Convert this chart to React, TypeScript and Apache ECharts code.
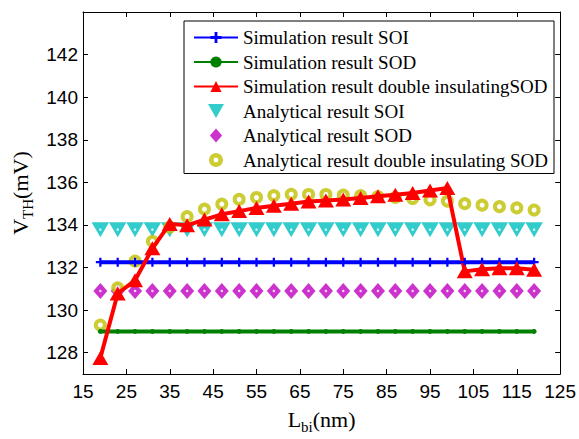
import React, { useEffect, useRef } from "react";
import * as echarts from "echarts";

const xValues = [19, 23, 27, 31, 35, 39, 43, 47, 51, 55, 59, 63, 67, 71, 75, 79, 83, 87, 91, 95, 99, 103, 107, 111, 115, 119];

const simSOI = [132.25, 132.25, 132.25, 132.25, 132.25, 132.25, 132.25, 132.25, 132.25, 132.25, 132.25, 132.25, 132.25, 132.25, 132.25, 132.25, 132.25, 132.25, 132.25, 132.25, 132.25, 132.25, 132.25, 132.25, 132.25, 132.25];
const simSOD = [129.0, 129.0, 129.0, 129.0, 129.0, 129.0, 129.0, 129.0, 129.0, 129.0, 129.0, 129.0, 129.0, 129.0, 129.0, 129.0, 129.0, 129.0, 129.0, 129.0, 129.0, 129.0, 129.0, 129.0, 129.0, 129.0];
const simDoubleSOD = [127.75, 130.78, 131.4, 132.9, 134.05, 133.98, 134.25, 134.5, 134.65, 134.8, 134.9, 135.0, 135.1, 135.15, 135.2, 135.27, 135.35, 135.42, 135.5, 135.62, 135.73, 131.82, 131.92, 131.97, 131.97, 131.9];
const anaSOI = [133.78, 133.78, 133.78, 133.78, 133.78, 133.78, 133.78, 133.78, 133.78, 133.78, 133.78, 133.78, 133.78, 133.78, 133.78, 133.78, 133.78, 133.78, 133.78, 133.78, 133.78, 133.78, 133.78, 133.78, 133.78, 133.78];
const anaSOD = [130.9, 130.9, 130.9, 130.9, 130.9, 130.9, 130.9, 130.9, 130.9, 130.9, 130.9, 130.9, 130.9, 130.9, 130.9, 130.9, 130.9, 130.9, 130.9, 130.9, 130.9, 130.9, 130.9, 130.9, 130.9, 130.9];
const anaDoubleSOD = [129.3, 131.05, 132.3, 133.23, 133.9, 134.39, 134.74, 134.98, 135.2, 135.29, 135.38, 135.44, 135.43, 135.43, 135.4, 135.38, 135.33, 135.29, 135.24, 135.18, 135.12, 135.0, 134.93, 134.86, 134.8, 134.7];

const yTicks = [128, 130, 132, 134, 136, 138, 140, 142];
const xTicks = [15, 25, 35, 45, 55, 65, 75, 85, 95, 105, 115, 125];

const names = [
  "Simulation result SOI",
  "Simulation result SOD",
  "Simulation result double insulatingSOD",
  "Analytical result SOI",
  "Analytical result SOD",
  "Analytical result double insulating SOD",
];

const pts = (ys: number[]) => xValues.map((x, i) => [x, ys[i]]);

const PLUS = "path://M3,0h2v3h3v2h-3v3h-2v-3h-3v-2h3z";
const TRI_DOWN = "path://M0,0L16,0L8,14Z";
const DIAMOND = "path://M7,0L14,8L7,16L0,8Z";
const RING = "path://M7,0A7,7 0 1,1 7,14A7,7 0 1,1 7,0ZM7,4.5A2.5,2.5 0 1,0 7,9.5A2.5,2.5 0 1,0 7,4.5Z";
const SANS = "Liberation Sans, Arial, sans-serif";
const SERIF = "Liberation Serif, Times New Roman, serif";

const CYAN = "#00BFBF";
const MAGENTA = "#BF00BF";
const OLIVE = "#BFBF00";

export default function App() {
  const ref = useRef<HTMLDivElement>(null);
  useEffect(() => {
    if (!ref.current) return;
    const chart = echarts.init(ref.current, null, { renderer: "svg" });
    const axisCommon = {
      axisLine: { show: true, onZero: false, lineStyle: { color: "#000", width: 1 } },
      splitLine: { show: false },
    };
    const titleRich = {
      m: { fontFamily: SERIF, fontSize: 22, color: "#000", lineHeight: 30, verticalAlign: "middle" },
      s: { fontFamily: SERIF, fontSize: 15, color: "#000", lineHeight: 15, verticalAlign: "bottom" },
    };
    chart.setOption({
      animation: false,
      backgroundColor: "#fff",
      grid: { left: 83, right: 14, top: 12, bottom: 56, containLabel: false },
      legend: {
        orient: "vertical",
        left: 184,
        top: 21,
        padding: [7, 6, 4, 9],
        itemWidth: 44,
        itemHeight: 14,
        itemGap: 5.5,
        borderColor: "#000",
        borderWidth: 1,
        borderRadius: 0,
        backgroundColor: "#fff",
        textStyle: { fontFamily: SERIF, fontSize: 19, lineHeight: 19, color: "#000" },
        data: [
          { name: names[0] },
          { name: names[1] },
          { name: names[2] },
          { name: names[3], icon: TRI_DOWN },
          { name: names[4], icon: DIAMOND },
          { name: names[5], icon: RING, itemStyle: { color: OLIVE, borderWidth: 0 } },
        ],
      },
      xAxis: [
        {
          type: "value",
          min: 15,
          max: 125,
          interval: 10,
          position: "bottom",
          ...axisCommon,
          axisTick: { show: true, inside: true, length: 5, lineStyle: { color: "#000" }, customValues: xTicks },
          axisLabel: { show: true, color: "#000", fontFamily: SANS, fontSize: 19, margin: 8, customValues: xTicks },
          name: "{m|L}{s|bi}{m|(nm)}",
          nameLocation: "middle",
          nameGap: 30,
          nameTextStyle: { rich: titleRich },
        },
        {
          type: "value",
          min: 15,
          max: 125,
          interval: 10,
          position: "top",
          ...axisCommon,
          axisTick: { show: true, inside: true, length: 5, lineStyle: { color: "#000" }, customValues: xTicks },
          axisLabel: { show: false },
        },
      ],
      yAxis: [
        {
          type: "value",
          min: 127,
          max: 144,
          position: "left",
          ...axisCommon,
          axisTick: { show: true, inside: true, length: 5, lineStyle: { color: "#000" }, customValues: yTicks },
          axisLabel: { show: true, color: "#000", fontFamily: SANS, fontSize: 19, margin: 5, customValues: yTicks },
          name: "{m|V}{s|TH}{m|(mV)}",
          nameLocation: "middle",
          nameGap: 48,
          nameTextStyle: { rich: titleRich },
        },
        {
          type: "value",
          min: 127,
          max: 144,
          position: "right",
          ...axisCommon,
          axisTick: { show: true, inside: true, length: 5, lineStyle: { color: "#000" }, customValues: yTicks },
          axisLabel: { show: false },
        },
      ],
      series: [
        {
          name: names[0],
          type: "line",
          data: pts(simSOI),
          symbol: PLUS,
          symbolSize: 9,
          lineStyle: { color: "#0000FF", width: 4 },
          itemStyle: { color: "#0000FF" },
        },
        {
          name: names[1],
          type: "line",
          data: pts(simSOD),
          symbol: "circle",
          symbolSize: 5,
          lineStyle: { color: "#008000", width: 4 },
          itemStyle: { color: "#008000" },
        },
        {
          name: names[2],
          type: "line",
          data: pts(simDoubleSOD),
          symbol: "triangle",
          symbolSize: [16, 14],
          lineStyle: { color: "#FF0000", width: 4 },
          itemStyle: { color: "#FF0000" },
        },
        {
          name: names[3],
          type: "scatter",
          data: pts(anaSOI),
          symbol: TRI_DOWN,
          symbolSize: [17.5, 15],
          itemStyle: { color: CYAN },
        },
        {
          name: names[4],
          type: "scatter",
          data: pts(anaSOD),
          symbol: DIAMOND,
          symbolSize: [14, 16],
          itemStyle: { color: MAGENTA },
        },
        {
          name: "dots",
          type: "scatter",
          data: [...pts(anaSOI), ...pts(anaSOD)],
          symbol: "circle",
          symbolSize: 2.5,
          itemStyle: { color: "#fff" },
          silent: true,
        },
        {
          name: names[5],
          type: "scatter",
          data: pts(anaDoubleSOD),
          symbol: "circle",
          symbolSize: 9,
          itemStyle: { color: "#fff", borderColor: OLIVE, borderWidth: 4 },
        },
      ],
    });
    return () => chart.dispose();
  }, []);
  return <div ref={ref} style={{ width: 579, height: 439, position: "absolute", left: 0, top: 0 }} />;
}
